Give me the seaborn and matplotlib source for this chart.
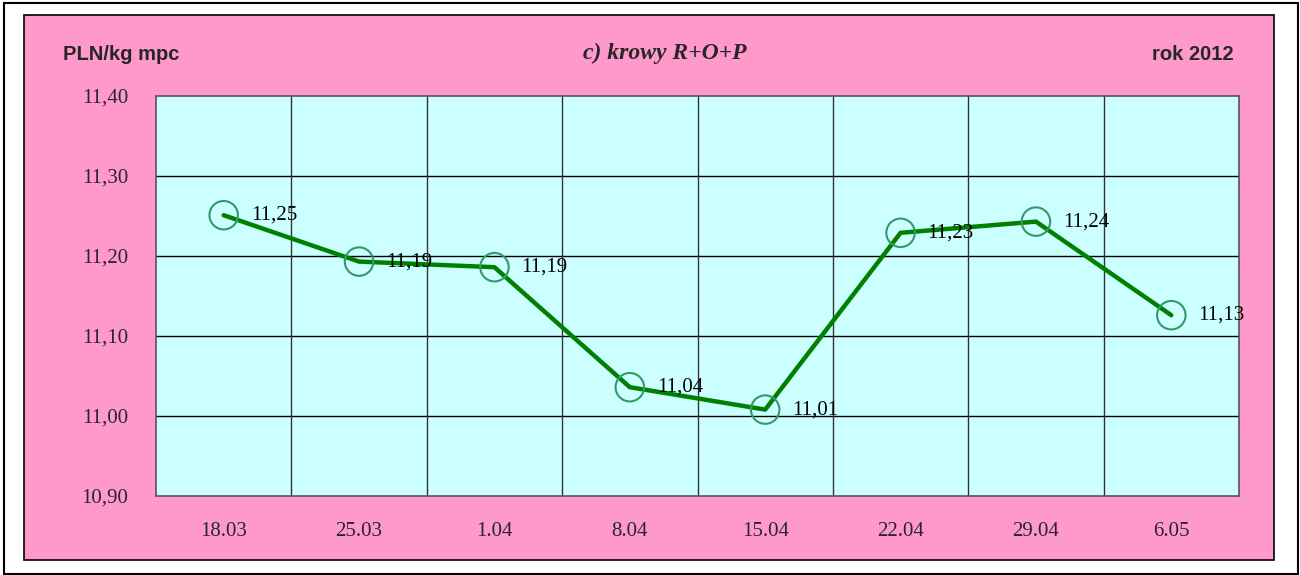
import matplotlib
matplotlib.use("Agg")
import matplotlib.pyplot as plt
from matplotlib.patches import Rectangle
import seaborn as sns
import pandas as pd

dates = ["18.03", "25.03", "1.04", "8.04", "15.04", "22.04", "29.04", "6.05"]
prices = [11.251, 11.193, 11.186, 11.036, 11.008, 11.229, 11.243, 11.126]
labels = ["11,25", "11,19", "11,19", "11,04", "11,01", "11,23", "11,24", "11,13"]
yticks = [10.90, 11.00, 11.10, 11.20, 11.30, 11.40]

sns.set_theme(style="white")
plt.rcParams["font.family"] = ["Liberation Serif", "DejaVu Serif"]

df = pd.DataFrame({"x": range(len(dates)), "y": prices})

fig = plt.figure(figsize=(13, 5.75), dpi=100)
fig.patch.set_facecolor("white")

# outer frame
fig.add_artist(Rectangle((4 / 1300, 1 / 575), 1294 / 1300, 571 / 575, transform=fig.transFigure,
                         facecolor="white", edgecolor="black", linewidth=1.5, zorder=-3))
# pink chart area
fig.add_artist(Rectangle((24 / 1300, 1 - 560 / 575), 1250 / 1300, 545 / 575, transform=fig.transFigure,
                         facecolor="#FF99CC", edgecolor="black", linewidth=1.2, zorder=-2))

ax = fig.add_axes([156 / 1300, 1 - 496 / 575, (1239 - 156) / 1300, (496 - 96) / 575])
ax.set_facecolor("#CCFFFF")

sns.lineplot(data=df, x="x", y="y", ax=ax, color="#008000", linewidth=3.2, zorder=3)
sns.scatterplot(data=df, x="x", y="y", ax=ax, s=420, facecolors="none",
                edgecolor="#339966", linewidth=1.5, zorder=4, legend=False)

for i, (v, t) in enumerate(zip(prices, labels)):
    ax.annotate(t, (i, v), xytext=(27, 0), textcoords="offset pixels",
                ha="left", va="center", fontsize=15, color="black", zorder=5)

ax.set_xlim(-0.5, len(dates) - 0.5)
ax.set_ylim(10.90, 11.40)
ax.set_yticks(yticks)
ax.set_yticklabels([f"{t:.2f}".replace(".", ",") for t in yticks], fontsize=15)
ax.set_xticks(range(len(dates)))
ax.set_xticklabels(dates, fontsize=15)
ax.set_xticks([i + 0.5 for i in range(len(dates) - 1)], minor=True)
ax.tick_params(axis="x", which="major", length=0, pad=19)
ax.tick_params(axis="x", which="minor", length=7, width=1, color="#333333", direction="out")
ax.tick_params(axis="y", which="major", length=8, width=1, color="#333333", direction="out", pad=12)
ax.set_xlabel("")
ax.set_ylabel("")

ax.grid(False)
for yv in yticks[1:-1]:
    ax.axhline(yv, color="black", linewidth=1, zorder=1)
for xv in [i + 0.5 for i in range(len(dates) - 1)]:
    ax.axvline(xv, color="#333333", linewidth=1, zorder=1)

for side in ["left", "bottom", "top", "right"]:
    ax.spines[side].set_visible(True)
    ax.spines[side].set_color("#555555")
    ax.spines[side].set_linewidth(1.2)

fig.text(63 / 1300, 1 - 54 / 575, "PLN/kg mpc", fontsize=14.5, fontweight="bold",
         family=["Liberation Sans", "DejaVu Sans"], ha="left", va="center")
fig.text(665 / 1300, 1 - 53 / 575, "c) krowy R+O+P", fontsize=17, fontweight="bold",
         fontstyle="italic", ha="center", va="center")
fig.text(1234 / 1300, 1 - 54 / 575, "rok 2012", fontsize=14.5, fontweight="bold",
         family=["Liberation Sans", "DejaVu Sans"], ha="right", va="center")

fig.savefig("out.png", dpi=100, facecolor="white")
